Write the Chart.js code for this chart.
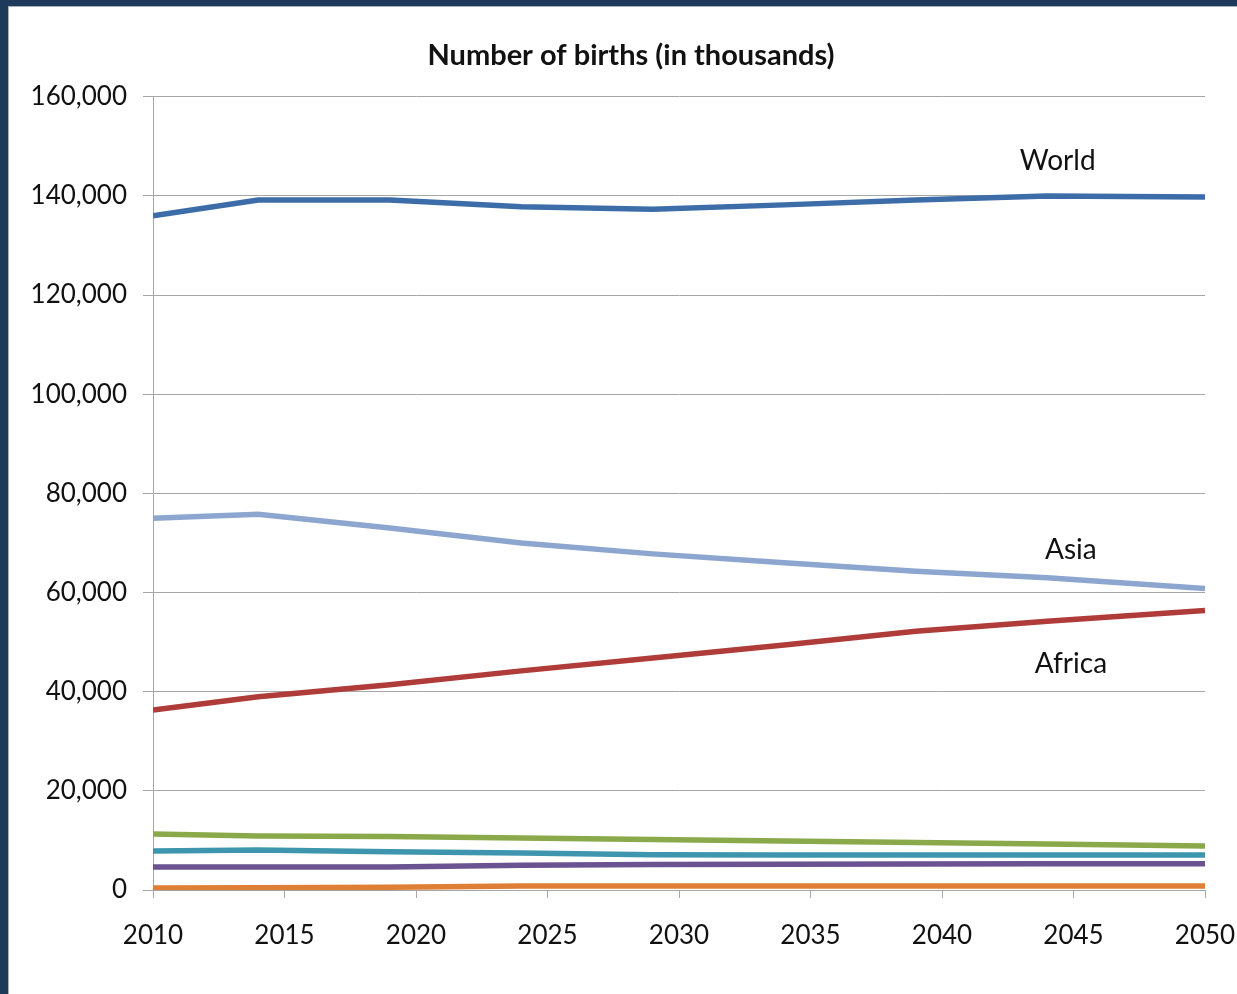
<!DOCTYPE html>
<html>
<head>
<meta charset="utf-8">
<script src="https://cdn.jsdelivr.net/npm/chart.js@4/dist/chart.umd.min.js"></script>
<style>
  html, body { margin: 0; padding: 0; }
  body { width: 1237px; height: 994px; background: #1d3a5b; overflow: hidden; position: relative; }
  #panel {
    position: absolute; left: 8px; top: 6px; right: 0; bottom: 0;
    background: #fff; border-left: 1px solid #a9b0b8; border-top: 1px solid #a9b0b8;
  }
  #births { display: block; }
</style>
</head>
<body>
<div id="panel"><canvas id="births" width="1228" height="987"></canvas></div>
<script>
// years where the projections change slope
const years = [2010, 2014, 2019, 2024, 2029, 2034, 2039, 2044, 2050];

// births per year, in thousands
const world    = [136000, 139200, 139200, 137800, 137300, 138200, 139200, 140000, 139800];
const asia     = [75000, 75800, 73000, 70000, 67800, 66000, 64300, 63000, 60800];
const africa   = [36300, 39000, 41400, 44200, 46800, 49400, 52200, 54200, 56400];
const greenSer = [11300, 10900, 10800, 10500, 10200, 9900, 9600, 9300, 8900];
const tealSer  = [7850, 8050, 7700, 7450, 7100, 7050, 7050, 7050, 7050];
const purpSer  = [4650, 4650, 4650, 5000, 5150, 5200, 5250, 5300, 5300];
const orangSer = [400, 450, 550, 800, 800, 800, 800, 800, 800];

const xTicks = [2010, 2015, 2020, 2025, 2030, 2035, 2040, 2045, 2050];
const yTicks = [0, 20000, 40000, 60000, 80000, 100000, 120000, 140000, 160000];

// names written next to the three big series: [name, year, value]
const seriesNames = [
  ['World', 2044.4, 147100],
  ['Asia', 2044.9, 68500],
  ['Africa', 2044.9, 45500]
];

const FONT = 'Lato, "Open Sans", sans-serif';
const GRID = '#a6a6a6';

function pts(values) {
  return values.map((v, i) => ({ x: years[i], y: v }));
}

function line(label, values, color) {
  return {
    label: label,
    data: pts(values),
    borderColor: color,
    backgroundColor: color,
    borderWidth: 5.5,
    pointRadius: 0,
    tension: 0,
    fill: false
  };
}

const nameLabels = {
  id: 'nameLabels',
  afterDatasetsDraw(chart) {
    const ctx = chart.ctx;
    const xs = chart.scales.x, ys = chart.scales.y;
    ctx.save();
    ctx.fillStyle = '#111';
    ctx.font = '28px ' + FONT;
    ctx.textAlign = 'center';
    ctx.textBaseline = 'middle';
    seriesNames.forEach(([name, yr, val]) => {
      ctx.fillText(name, xs.getPixelForValue(yr), ys.getPixelForValue(val));
    });
    ctx.restore();
  }
};

new Chart(document.getElementById('births').getContext('2d'), {
  type: 'line',
  data: {
    datasets: [
      line('World', world, '#3d6da8'),
      line('Asia', asia, '#8ca6d0'),
      line('Africa', africa, '#b03c39'),
      line('Latin America', greenSer, '#8aa94a'),
      line('Europe', tealSer, '#3d96ae'),
      line('Northern America', purpSer, '#6a5390'),
      line('Oceania', orangSer, '#df7f35')
    ]
  },
  options: {
    responsive: false,
    animation: false,
    layout: { padding: { left: 16, right: 0, top: 0, bottom: 0 } },
    plugins: {
      legend: { display: false },
      tooltip: { enabled: false },
      title: {
        display: true,
        text: 'Number of births (in thousands)',
        color: '#111',
        font: { family: FONT, size: 29, weight: 'bold' },
        padding: { top: 31, bottom: 24 }
      }
    },
    scales: {
      x: {
        type: 'linear',
        min: 2010,
        max: 2050,
        afterBuildTicks: scale => { scale.ticks = xTicks.map(v => ({ value: v })); },
        afterFit: scale => {
          scale.height = 104;
          scale.paddingLeft = 0;
          scale.paddingRight = 32;
        },
        ticks: {
          color: '#111',
          font: { family: FONT, size: 26 },
          padding: 22,
          maxRotation: 0,
          callback: v => String(v)
        },
        grid: { drawOnChartArea: false, drawTicks: true, tickLength: 8, color: GRID },
        border: { display: true, color: GRID, width: 1 }
      },
      y: {
        min: 0,
        max: 160000,
        afterBuildTicks: scale => { scale.ticks = yTicks.map(v => ({ value: v })); },
        afterFit: scale => { scale.width = 128; },
        ticks: {
          color: '#111',
          font: { family: FONT, size: 26 },
          padding: 16,
          callback: v => v.toLocaleString('en-US')
        },
        grid: { color: GRID, tickLength: 10, lineWidth: 1 },
        border: { display: true, color: GRID, width: 1 }
      }
    }
  },
  plugins: [nameLabels]
});
</script>
</body>
</html>
